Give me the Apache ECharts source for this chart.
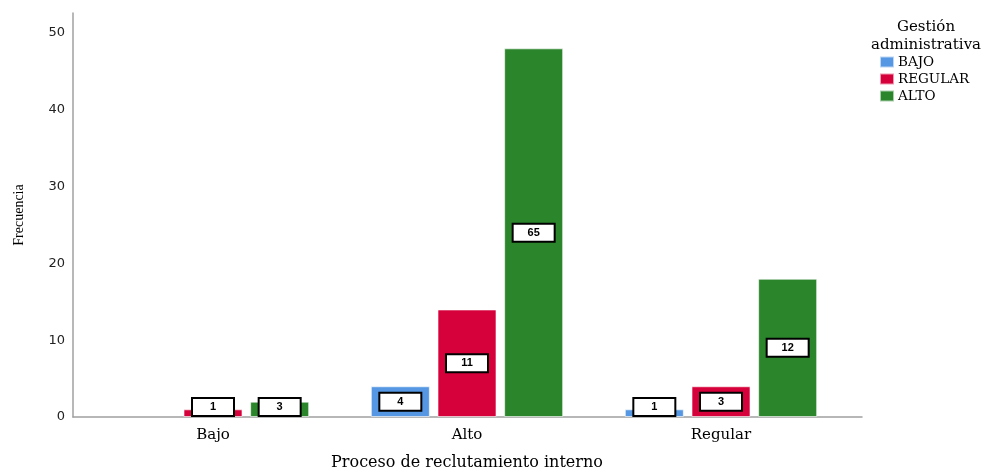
<!DOCTYPE html>
<html>
<head>
<meta charset="utf-8">
<script src="https://cdn.jsdelivr.net/npm/echarts@6/dist/echarts.min.js"></script>
<style>
  html, body { margin: 0; padding: 0; background: #fff; }
  #chart { width: 985px; height: 470px; }
</style>
</head>
<body>
<div id="chart"></div>
<script>
// Categories on the x axis (Proceso de reclutamiento interno)
const categories = ['Bajo', 'Alto', 'Regular'];
// Legend groups (Gestión administrativa)
const seriesNames = ['BAJO', 'REGULAR', 'ALTO'];
// Frequencies drawn as bar heights
const freqBajo = [0, 4, 1];
const freqRegular = [1, 14, 4];
const freqAlto = [2, 48, 18];
// Values printed in the boxed labels
const boxBajo = [null, 4, 1];
const boxRegular = [1, 11, 3];
const boxAlto = [3, 65, 12];
// Y axis ticks
const yTicks = [0, 10, 20, 30, 40, 50];

const colors = ['#5597E2', '#D6003A', '#2A852B'];
const serif = '"DejaVu Serif", "Liberation Serif", serif';
const narrowSerif = '"Liberation Serif", serif';
const sans = '"DejaVu Sans", Verdana, sans-serif';

function makeSeries(name, values, boxes, color) {
  return {
    name: name,
    type: 'bar',
    xAxisIndex: 0,
    yAxisIndex: 0,
    barWidth: 59,
    barGap: '13%',
    itemStyle: { color: color, borderColor: 'rgba(255,255,255,0.6)', borderWidth: 1 },
    data: values.map((v, i) => ({
      value: v,
      box: boxes[i],
      itemStyle: v === 0 ? { borderWidth: 0 } : undefined,
      label: { show: boxes[i] != null }
    })),
    label: {
      show: true,
      position: 'inside',
      formatter: p => String(p.data.box),
      color: '#000',
      fontFamily: 'Arial, "Liberation Sans", sans-serif',
      fontWeight: 'bold',
      fontSize: 11,
      backgroundColor: '#fff',
      borderColor: '#000',
      borderWidth: 2,
      width: 40,
      height: 16,
      align: 'center',
      verticalAlign: 'middle',
      lineHeight: 16
    },
    labelLayout: function (params) {
      // short bars: rest the box on the baseline instead of clipping it
      const r = params.rect;
      const lr = params.labelRect;
      const base = r.y + r.height;
      if (lr.y + lr.height > base - 1) {
        return { y: base - 10 };
      }
      return {};
    },
    emphasis: { disabled: true }
  };
}

const chart = echarts.init(document.getElementById('chart'), null, { renderer: 'canvas' });
chart.setOption({
  animation: false,
  color: colors,
  grid: [
    { left: 86, right: 137, top: 13, bottom: 53, outerBoundsMode: 'none', containLabel: false },
    { left: 73, right: 123, top: 13, bottom: 53, outerBoundsMode: 'none', containLabel: false }
  ],
  legend: {
    data: seriesNames,
    orient: 'vertical',
    left: 879,
    top: 55,
    padding: 0,
    itemWidth: 14,
    itemHeight: 11,
    itemGap: 3,
    icon: 'rect',
    textStyle: { fontFamily: serif, fontSize: 13.5, lineHeight: 14, color: '#000', padding: [0, 0, 0, -1] }
  },
  graphic: [{
    type: 'text',
    x: 926,
    y: 18,
    style: {
      text: 'Gestión\nadministrativa',
      fontFamily: serif,
      fontSize: 15,
      lineHeight: 18,
      fill: '#000',
      align: 'center'
    }
  }],
  xAxis: [
    {
      type: 'category',
      gridIndex: 0,
      data: categories,
      name: 'Proceso de reclutamiento interno',
      nameLocation: 'middle',
      nameGap: 38,
      nameTextStyle: { fontFamily: serif, fontSize: 16, color: '#000' },
      axisLine: { show: false },
      axisTick: { show: false },
      axisLabel: { fontFamily: serif, fontSize: 15, color: '#000', margin: 11 }
    },
    {
      type: 'category',
      gridIndex: 1,
      data: [''],
      axisLine: { show: true, lineStyle: { color: '#a0a0a0', width: 1.5 } },
      axisTick: { show: false },
      axisLabel: { show: false }
    }
  ],
  yAxis: [
    {
      type: 'value',
      gridIndex: 0,
      min: yTicks[0],
      max: 52.6,
      interval: yTicks[1] - yTicks[0],
      offset: 13,
      name: 'Frecuencia',
      nameLocation: 'middle',
      nameGap: 47,
      nameTextStyle: { fontFamily: narrowSerif, fontSize: 14, color: '#000', padding: [0, 0, 0, 0] },
      axisLine: { show: true, lineStyle: { color: '#a0a0a0', width: 1.5 } },
      axisTick: { show: false },
      splitLine: { show: false },
      axisLabel: {
        showMaxLabel: false,
        fontFamily: sans,
        fontSize: 13,
        color: '#222',
        margin: 8,
        formatter: v => (yTicks.includes(v) ? String(v) : '')
      }
    },
    {
      type: 'value',
      gridIndex: 1,
      show: false
    }
  ],
  series: [
    makeSeries(seriesNames[0], freqBajo, boxBajo, colors[0]),
    makeSeries(seriesNames[1], freqRegular, boxRegular, colors[1]),
    makeSeries(seriesNames[2], freqAlto, boxAlto, colors[2])
  ]
});
</script>
</body>
</html>
